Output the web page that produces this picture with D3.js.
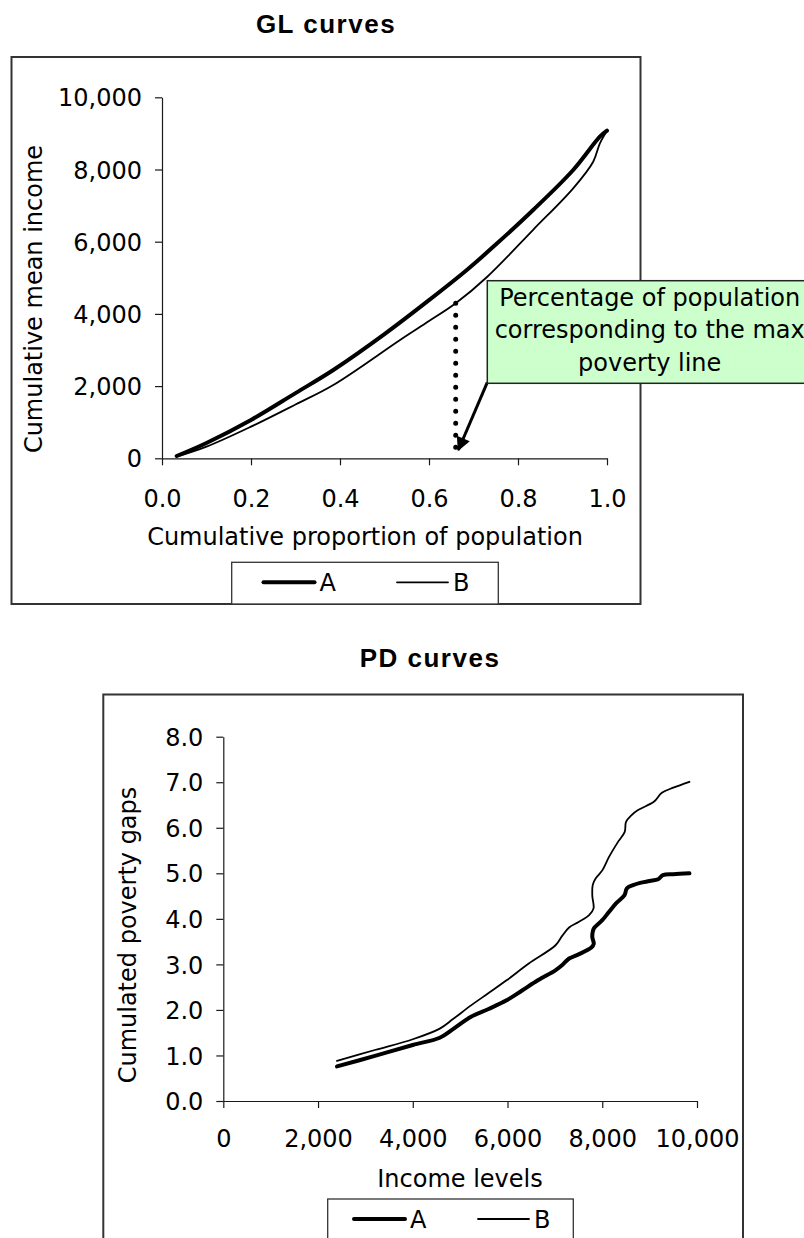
<!DOCTYPE html>
<html>
<head>
<meta charset="utf-8">
<script src="https://cdn.jsdelivr.net/npm/d3@7"></script>
<style>
  html, body { margin: 0; padding: 0; background: #fff; }
  svg { display: block; }
  text { font-family: "DejaVu Sans", Verdana, sans-serif; fill: #000; }
  .title { font-family: "Liberation Sans", Arial, sans-serif; font-weight: bold; font-size: 26px; letter-spacing: 1.5px; }
  .lbl { font-size: 24px; }
  .axis text { font-size: 24px; font-family: "DejaVu Sans", Verdana, sans-serif; }
  .axis path, .axis line { stroke: #1a1a1a; stroke-width: 1.2; }
</style>
</head>
<body>
<script>
// ---------- Data: GL curves ----------
const glPopA = [0.033, 0.1, 0.2, 0.3, 0.385, 0.5, 0.6, 0.685, 0.75, 0.834, 0.924, 0.984, 1.0];
const glIncA = [64, 425, 1061, 1805, 2446, 3440, 4380, 5216, 5920, 6878, 7986, 8909, 9075];
const glPopB = [0.033, 0.1, 0.2, 0.3, 0.385, 0.535, 0.6, 0.66, 0.731, 0.834, 0.924, 0.969, 0.984, 1.0];
const glIncB = [45, 322, 876, 1490, 2030, 3277, 3800, 4294, 5030, 6330, 7479, 8216, 8726, 9075];
const glXTicks = [0, 0.2, 0.4, 0.6, 0.8, 1.0];
const glYTicks = [0, 2000, 4000, 6000, 8000, 10000];
// annotation: max poverty line population share
const maxPovShare = 0.66;
const dotBottomVal = 250;
const arrowTip = [0.666, 230];
const noteLines = ["Percentage of population", "corresponding to the max", "poverty line"];

// ---------- Data: PD curves ----------
const pdIncA = [2400, 3200, 4000, 4570, 4850, 5230, 5600, 5980, 6300, 6640, 7010, 7150, 7300, 7500, 7770, 7820, 7790, 7800, 7830, 8000, 8140, 8300, 8470, 8520, 8650, 8800, 9000, 9180, 9280, 9500, 9840];
const pdGapA = [0.76, 0.99, 1.23, 1.39, 1.58, 1.85, 2.02, 2.21, 2.42, 2.65, 2.87, 2.98, 3.13, 3.22, 3.37, 3.45, 3.6, 3.72, 3.8, 3.97, 4.15, 4.35, 4.52, 4.67, 4.74, 4.79, 4.83, 4.87, 4.96, 4.98, 5.0];
const pdIncB = [2400, 3200, 4000, 4570, 4850, 5230, 5600, 5980, 6449, 7014, 7150, 7300, 7500, 7722, 7816, 7790, 7800, 7863, 8004, 8143, 8333, 8474, 8502, 8620, 8755, 9089, 9258, 9500, 9840];
const pdGapB = [0.88, 1.12, 1.356, 1.59, 1.8, 2.1, 2.37, 2.65, 3.02, 3.42, 3.62, 3.81, 3.93, 4.08, 4.23, 4.5, 4.75, 4.89, 5.07, 5.36, 5.69, 5.91, 6.13, 6.28, 6.39, 6.57, 6.77, 6.88, 7.01];
const pdXTicks = [0, 2000, 4000, 6000, 8000, 10000];
const pdYTicks = [0, 1, 2, 3, 4, 5, 6, 7, 8];

const seriesNames = ["A", "B"];
const seriesWidths = [4, 1.8];

// ---------- Drawing ----------
const svg = d3.select("body").append("svg").attr("width", 804).attr("height", 1238);

svg.append("defs").append("marker")
  .attr("id", "arrowhead").attr("viewBox", "0 0 10 10")
  .attr("refX", 9).attr("refY", 5)
  .attr("markerWidth", 16).attr("markerHeight", 14)
  .attr("markerUnits", "userSpaceOnUse")
  .attr("orient", "auto")
  .append("path").attr("d", "M0,0 L10,5 L0,10 Z").attr("fill", "#000");

function drawChart(cfg) {
  const g = svg.append("g");
  // outer chart frame
  g.append("rect")
    .attr("x", cfg.frame[0]).attr("y", cfg.frame[1])
    .attr("width", cfg.frame[2]).attr("height", cfg.frame[3])
    .attr("fill", "#fff").attr("stroke", "#333").attr("stroke-width", 2);
  // title
  g.append("text").attr("class", "title")
    .attr("x", cfg.titlePos[0]).attr("y", cfg.titlePos[1])
    .attr("text-anchor", "middle").text(cfg.title);

  const x = d3.scaleLinear().domain(cfg.xDomain).range(cfg.xRange);
  const y = d3.scaleLinear().domain(cfg.yDomain).range(cfg.yRange);

  const xAxis = g.append("g").attr("class", "axis")
    .attr("transform", `translate(0,${cfg.yRange[0]})`)
    .call(d3.axisBottom(x).tickValues(cfg.xTicks).tickFormat(cfg.xFmt).tickSize(7).tickSizeOuter(0));
  xAxis.selectAll("text").attr("y", cfg.xLabelOffset).attr("dy", 0);

  const yAxis = g.append("g").attr("class", "axis")
    .attr("transform", `translate(${cfg.xRange[0]},0)`)
    .call(d3.axisLeft(y).tickValues(cfg.yTicks).tickFormat(cfg.yFmt).tickSize(7).tickSizeOuter(0).tickPadding(13));
  yAxis.selectAll("text").attr("dy", "0.36em");

  // axis titles
  g.append("text").attr("class", "lbl")
    .attr("x", cfg.xTitlePos[0]).attr("y", cfg.xTitlePos[1])
    .attr("text-anchor", "middle").text(cfg.xTitle);
  g.append("text").attr("class", "lbl")
    .attr("transform", `translate(${cfg.yTitlePos[0]},${cfg.yTitlePos[1]}) rotate(-90)`)
    .attr("text-anchor", "middle").text(cfg.yTitle);

  // series
  const line = d3.line().x(d => x(d[0])).y(d => y(d[1])).curve(d3.curveCatmullRom.alpha(0.5));
  cfg.series.forEach((s, i) => {
    const pts = s.xs.map((v, k) => [v, s.ys[k]]);
    g.append("path").datum(pts)
      .attr("d", line)
      .attr("fill", "none").attr("stroke", "#000")
      .attr("stroke-width", seriesWidths[i])
      .attr("stroke-linejoin", "round").attr("stroke-linecap", "round");
  });

  // legend
  const L = cfg.legend;
  g.append("rect").attr("x", L.box[0]).attr("y", L.box[1]).attr("width", L.box[2]).attr("height", L.box[3])
    .attr("fill", "#fff").attr("stroke", "#333").attr("stroke-width", 1.3);
  seriesNames.forEach((name, i) => {
    const lx = L.items[i];
    g.append("line").attr("x1", lx).attr("x2", lx + 51).attr("y1", L.y).attr("y2", L.y)
      .attr("stroke", "#000").attr("stroke-width", seriesWidths[i]).attr("stroke-linecap", "round");
    g.append("text").attr("class", "lbl").attr("x", lx + 56).attr("y", L.y + 9).text(name);
  });
  return { g, x, y };
}

// GL chart
const gl = drawChart({
  frame: [11.5, 57, 629, 547],
  title: "GL curves", titlePos: [326, 33],
  xDomain: [0, 1], xRange: [162, 607],
  yDomain: [0, 10000], yRange: [458.3, 97.3],
  xTicks: glXTicks, yTicks: glYTicks,
  xFmt: d3.format(".1f"), yFmt: d3.format(","),
  xLabelOffset: 49,
  xTitle: "Cumulative proportion of population", xTitlePos: [365, 545],
  yTitle: "Cumulative mean income", yTitlePos: [42, 299],
  series: [{ xs: glPopA, ys: glIncA }, { xs: glPopB, ys: glIncB }],
  legend: { box: [231.7, 562.3, 266.6, 41.7], items: [263.5, 397], y: 582.3 }
});

// GL annotation
(function () {
  const { g, x, y } = gl;
  const bAtMax = d3.scaleLinear().domain(glPopB).range(glIncB)(maxPovShare);
  g.append("line")
    .attr("x1", x(maxPovShare)).attr("x2", x(maxPovShare))
    .attr("y1", y(bAtMax)).attr("y2", y(dotBottomVal))
    .attr("stroke", "#000").attr("stroke-width", 5)
    .attr("stroke-linecap", "round").attr("stroke-dasharray", "0 12");
  const bx = 487.3, by = 280.7, bh = 102.6;
  g.append("line")
    .attr("x1", bx).attr("y1", by + bh - 1)
    .attr("x2", x(arrowTip[0])).attr("y2", y(arrowTip[1]))
    .attr("stroke", "#000").attr("stroke-width", 3)
    .attr("marker-end", "url(#arrowhead)");
  g.append("rect").attr("x", bx).attr("y", by).attr("width", 340).attr("height", bh)
    .attr("fill", "#ccffcc").attr("stroke", "#222").attr("stroke-width", 1.5);
  noteLines.forEach((t, i) => {
    g.append("text").attr("class", "lbl").attr("x", 649.7).attr("y", 306 + i * 32.3)
      .attr("text-anchor", "middle").text(t);
  });
})();

// PD chart
drawChart({
  frame: [103.3, 694.5, 639.7, 600],
  title: "PD curves", titlePos: [430, 666.7],
  xDomain: [0, 10000], xRange: [223.3, 697],
  yDomain: [0, 8], yRange: [1101, 736.7],
  xTicks: pdXTicks, yTicks: pdYTicks,
  xFmt: d3.format(","), yFmt: d3.format(".1f"),
  xLabelOffset: 46,
  xTitle: "Income levels", xTitlePos: [460, 1187.3],
  yTitle: "Cumulated poverty gaps", yTitlePos: [136, 935],
  series: [{ xs: pdIncA, ys: pdGapA }, { xs: pdIncB, ys: pdGapB }],
  legend: { box: [327.7, 1199, 245.6, 60], items: [354, 478], y: 1219 }
});
</script>
</body>
</html>
